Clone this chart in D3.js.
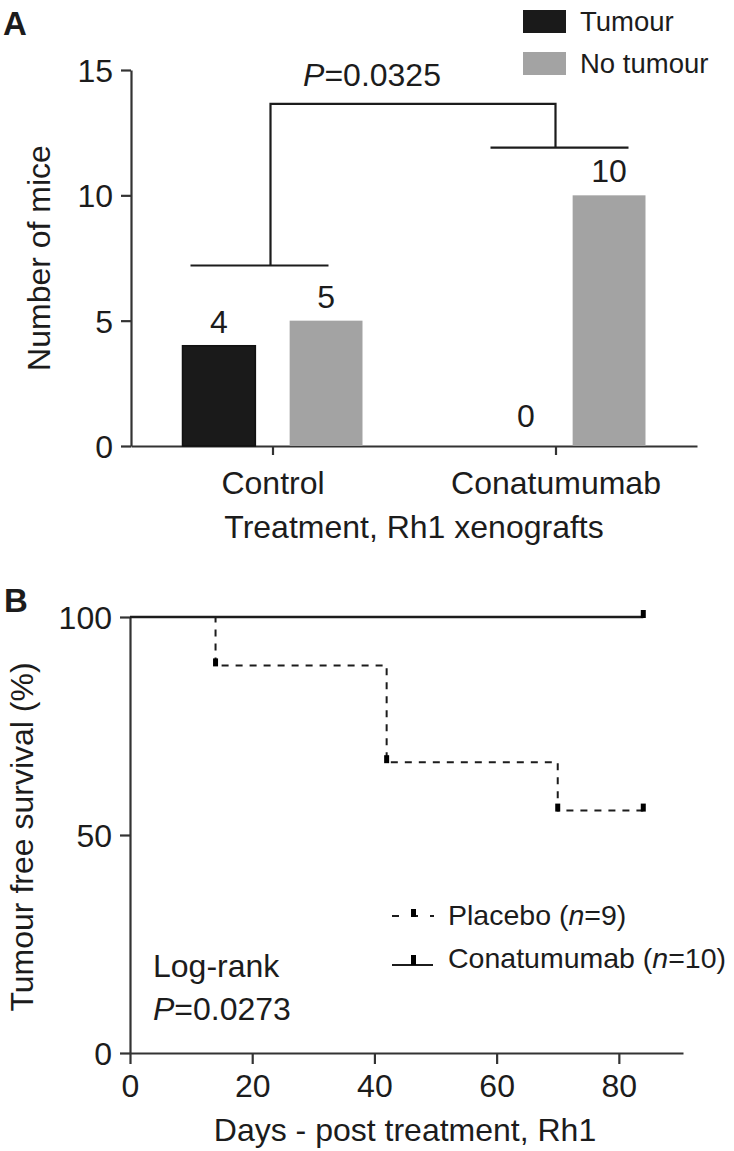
<!DOCTYPE html>
<html><head><meta charset="utf-8">
<script src="https://cdn.jsdelivr.net/npm/d3@7"></script>
<style>
body{margin:0;background:#fff}
text{font-family:"Liberation Sans",Arial,Helvetica,sans-serif;fill:#1c1c1c}
</style></head>
<body><svg id="c" width="734" height="1151"></svg>
<script>
// ---- data ----
const categories = ["Control", "Conatumumab"];
const seriesNames = ["Tumour", "No tumour"];
const tumour = [4, 0];
const noTumour = [5, 10];
const yTicksA = [0, 5, 10, 15];
const pValueA = "0.0325";
const bracketLevels = [7.2, 13.65, 11.9]; // control bar-group line, top, conatumumab line
const placeboDays = [0, 14, 42, 70, 84];
const placeboSurv = [100, 88.9, 66.7, 55.6, 55.6];
const conaDays = [0, 84];
const conaSurv = [100, 100];
const xTicksB = [0, 20, 40, 60, 80];
const yTicksB = [0, 50, 100];
const curveNames = ["Placebo", "Conatumumab"];
const curveN = [9, 10];
const pValueB = "0.0273";

const svg = d3.select("#c");
const ink = "#1c1c1c", axisCol = "#333";
const colors = ["#1a1a1a", "#a3a3a3"];
const FS = 32;

// ================= Panel A =================
const gA = svg.append("g");
const xA = d3.scalePoint().domain(categories).range([131, 697]).padding(0.5);
const xSub = d3.scaleBand().domain(seriesNames).range([-90, 90]).paddingInner(0.32);
const yA = d3.scaleLinear().domain([0, 15]).range([446, 70]);

const axA = gA.append("g").attr("transform", "translate(131,0)")
  .call(d3.axisLeft(yA).tickValues(yTicksA).tickSize(10).tickSizeOuter(0).tickPadding(8));
const axAx = gA.append("g").attr("transform", "translate(0,446)")
  .call(d3.axisBottom(xA).tickSize(9).tickSizeOuter(0).tickPadding(16));
[axA, axAx].forEach(a => {
  a.selectAll("path,line").attr("stroke", axisCol).attr("stroke-width", 2.2);
  a.selectAll("text").attr("font-size", FS).attr("fill", ink)
    .style("font-family", '"Liberation Sans",Arial,sans-serif');
});
axA.selectAll("text").attr("dy", "0.36em");

const barData = [];
categories.forEach((c, i) => {
  barData.push({c, s: seriesNames[0], v: tumour[i]});
  barData.push({c, s: seriesNames[1], v: noTumour[i]});
});
gA.selectAll("rect.bar").data(barData.filter(d => d.v > 0)).enter().append("rect")
  .attr("x", d => xA(d.c) + xSub(d.s))
  .attr("width", xSub.bandwidth())
  .attr("y", d => yA(d.v))
  .attr("height", d => yA(0) - yA(d.v))
  .attr("fill", d => colors[seriesNames.indexOf(d.s)])
  .attr("stroke", d => d.s === seriesNames[0] ? "#111" : "none")
  .attr("stroke-width", 1.5);
gA.selectAll("text.val").data(barData).enter().append("text")
  .attr("x", d => xA(d.c) + xSub(d.s) + xSub.bandwidth() / 2 + (d.v === 0 ? 24 : 0))
  .attr("y", d => yA(d.v) - (d.v === 0 ? 19 : 13))
  .attr("text-anchor", "middle").attr("font-size", FS)
  .text(d => d.v);

// brackets
const br = gA.append("g").attr("stroke", ink).attr("stroke-width", 2.2).attr("fill", "none");
const c0 = xA(categories[0]), c1 = xA(categories[1]);
br.append("line").attr("x1", c0 - 82).attr("x2", c0 + 56).attr("y1", yA(bracketLevels[0])).attr("y2", yA(bracketLevels[0]));
br.append("line").attr("x1", c1 - 65).attr("x2", c1 + 73).attr("y1", yA(bracketLevels[2])).attr("y2", yA(bracketLevels[2]));
br.append("path").attr("d", `M${c0 - 2},${yA(bracketLevels[0])}V${yA(bracketLevels[1])}H${c1}V${yA(bracketLevels[2])}`);
const pt = gA.append("text").attr("x", 372).attr("y", 86).attr("text-anchor", "middle").attr("font-size", FS);
pt.append("tspan").attr("font-style", "italic").text("P");
pt.append("tspan").text("=" + pValueA);

// legend A
const legA = gA.append("g");
seriesNames.forEach((s, i) => {
  legA.append("rect").attr("x", 523).attr("y", 10 + i * 42).attr("width", 43).attr("height", 23)
    .attr("fill", colors[i]);
  legA.append("text").attr("x", 580).attr("y", 31 + i * 42).attr("font-size", 27.5).text(s);
});

// axis titles A
gA.append("text").attr("transform", "translate(50,258) rotate(-90)").attr("text-anchor", "middle")
  .attr("font-size", FS).text("Number of mice");
gA.append("text").attr("x", 414).attr("y", 538).attr("text-anchor", "middle")
  .attr("font-size", FS).text("Treatment, Rh1 xenografts");
svg.append("text").attr("x", 3).attr("y", 35).attr("font-size", 33).attr("font-weight", "bold").text("A");

// ================= Panel B =================
const gB = svg.append("g");
const xB = d3.scaleLinear().domain([0, 90.5]).range([130, 683]);
const yB = d3.scaleLinear().domain([0, 100]).range([1053, 617]);

const axBy = gB.append("g").attr("transform", "translate(130,0)")
  .call(d3.axisLeft(yB).tickValues(yTicksB).tickSize(10).tickSizeOuter(0).tickPadding(8));
const axBx = gB.append("g").attr("transform", "translate(0,1053)")
  .call(d3.axisBottom(xB).tickValues(xTicksB).tickSize(11).tickSizeOuter(0).tickPadding(10));
[axBy, axBx].forEach(a => {
  a.selectAll("path,line").attr("stroke", axisCol).attr("stroke-width", 2.2);
  a.selectAll("text").attr("font-size", FS).attr("fill", ink)
    .style("font-family", '"Liberation Sans",Arial,sans-serif');
});
axBy.selectAll("text").attr("dy", "0.36em");

const step = d3.line().x(d => xB(d[0])).y(d => yB(d[1])).curve(d3.curveStepAfter);
const conaPts = conaDays.map((d, i) => [d, conaSurv[i]]);
const placPts = placeboDays.map((d, i) => [d, placeboSurv[i]]);
gB.append("path").attr("d", step(placPts)).attr("fill", "none").attr("stroke", ink)
  .attr("stroke-width", 2).attr("stroke-dasharray", "7,7");
gB.append("path").attr("d", step(conaPts)).attr("fill", "none").attr("stroke", ink)
  .attr("stroke-width", 2.4);

// tick marks on curves
const marks = placPts.slice(1).concat(conaPts.slice(1));
gB.selectAll("rect.mk").data(marks).enter().append("rect")
  .attr("x", d => xB(d[0]) - 2.5).attr("y", d => yB(d[1]) - 7)
  .attr("width", 5).attr("height", 8).attr("fill", "#000");

// legend B
const legB = gB.append("g");
const legY = [916, 965];
legB.append("line").attr("x1", 392).attr("x2", 434).attr("y1", legY[0]).attr("y2", legY[0])
  .attr("stroke", ink).attr("stroke-width", 2).attr("stroke-dasharray", "7,12");
legB.append("line").attr("x1", 392).attr("x2", 433).attr("y1", legY[1]).attr("y2", legY[1])
  .attr("stroke", ink).attr("stroke-width", 2.2);
legY.forEach((y, i) => {
  legB.append("rect").attr("x", 411).attr("y", y - (i ? 10 : 7)).attr("width", 5).attr("height", i ? 10 : 8).attr("fill", "#000");
  const t = legB.append("text").attr("x", 448).attr("y", (i ? 968 : 925)).attr("font-size", 28.5);
  t.append("tspan").text(curveNames[i] + " (");
  t.append("tspan").attr("font-style", "italic").text("n");
  t.append("tspan").text("=" + curveN[i] + ")");
});

// annotation
gB.append("text").attr("x", 153).attr("y", 977).attr("font-size", FS).text("Log-rank");
const pb = gB.append("text").attr("x", 153).attr("y", 1020).attr("font-size", FS);
pb.append("tspan").attr("font-style", "italic").text("P");
pb.append("tspan").text("=" + pValueB);

gB.append("text").attr("transform", "translate(33,837) rotate(-90)").attr("text-anchor", "middle")
  .attr("font-size", FS).text("Tumour free survival (%)");
gB.append("text").attr("x", 405).attr("y", 1141).attr("text-anchor", "middle")
  .attr("font-size", FS).text("Days - post treatment, Rh1");
svg.append("text").attr("x", 4).attr("y", 612).attr("font-size", 33).attr("font-weight", "bold").text("B");
</script></body></html>
